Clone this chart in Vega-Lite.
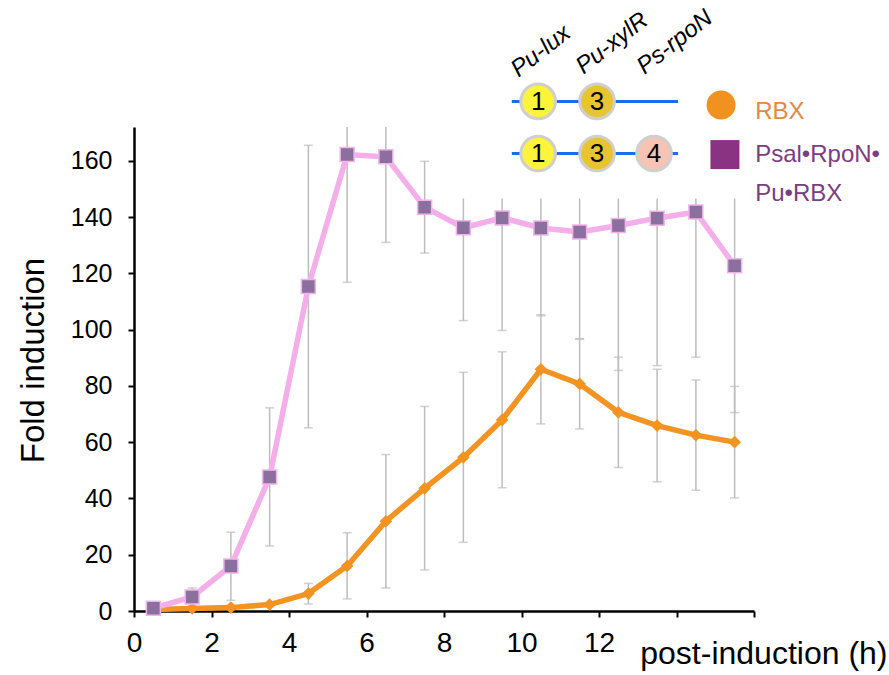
{
  "$schema": "https://vega.github.io/schema/vega-lite/v6.json",
  "width": 620,
  "height": 484,
  "autosize": {"type": "none"},
  "padding": {"left": 134, "top": 127, "right": 135, "bottom": 64},
  "background": "white",
  "config": {
    "view": {"stroke": null},
    "font": "Liberation Sans"
  },
  "datasets": {
    "main": [
      {"t": 0.5, "series": "RBX", "value": 0.5, "lo": 0.3, "hi": 0.7},
      {"t": 1.5, "series": "RBX", "value": 0.9, "lo": 0.5, "hi": 1.3},
      {"t": 2.5, "series": "RBX", "value": 1.2, "lo": 0.6, "hi": 1.8},
      {"t": 3.5, "series": "RBX", "value": 2.3, "lo": 1.5, "hi": 3.1},
      {"t": 4.5, "series": "RBX", "value": 6.2, "lo": 2.5, "hi": 9.8},
      {"t": 5.5, "series": "RBX", "value": 16.0, "lo": 4.3, "hi": 27.8},
      {"t": 6.5, "series": "RBX", "value": 31.9, "lo": 8.2, "hi": 55.6},
      {"t": 7.5, "series": "RBX", "value": 43.6, "lo": 14.6, "hi": 72.7},
      {"t": 8.5, "series": "RBX", "value": 54.6, "lo": 24.4, "hi": 84.8},
      {"t": 9.5, "series": "RBX", "value": 67.9, "lo": 43.8, "hi": 92.1},
      {"t": 10.5, "series": "RBX", "value": 85.9, "lo": 66.5, "hi": 105.3},
      {"t": 11.5, "series": "RBX", "value": 80.7, "lo": 64.7, "hi": 96.7},
      {"t": 12.5, "series": "RBX", "value": 70.6, "lo": 51.0, "hi": 90.2},
      {"t": 13.5, "series": "RBX", "value": 65.9, "lo": 45.9, "hi": 85.9},
      {"t": 14.5, "series": "RBX", "value": 62.5, "lo": 42.9, "hi": 82.1},
      {"t": 15.5, "series": "RBX", "value": 60.0, "lo": 40.2, "hi": 79.8},
      {"t": 0.5, "series": "Psal•RpoN•Pu•RBX", "value": 1.0, "lo": 0.5, "hi": 1.5},
      {"t": 1.5, "series": "Psal•RpoN•Pu•RBX", "value": 5.0, "lo": 1.8, "hi": 8.2},
      {"t": 2.5, "series": "Psal•RpoN•Pu•RBX", "value": 16.0, "lo": 3.8, "hi": 28.0},
      {"t": 3.5, "series": "Psal•RpoN•Pu•RBX", "value": 47.6, "lo": 23.1, "hi": 72.2},
      {"t": 4.5, "series": "Psal•RpoN•Pu•RBX", "value": 115.3, "lo": 65.1, "hi": 165.5},
      {"t": 5.5, "series": "Psal•RpoN•Pu•RBX", "value": 162.2, "lo": 116.8, "hi": 207.6},
      {"t": 6.5, "series": "Psal•RpoN•Pu•RBX", "value": 161.4, "lo": 131.0, "hi": 191.8},
      {"t": 7.5, "series": "Psal•RpoN•Pu•RBX", "value": 143.5, "lo": 127.2, "hi": 159.8},
      {"t": 8.5, "series": "Psal•RpoN•Pu•RBX", "value": 136.2, "lo": 103.2, "hi": 169.2},
      {"t": 9.5, "series": "Psal•RpoN•Pu•RBX", "value": 139.7, "lo": 99.7, "hi": 179.7},
      {"t": 10.5, "series": "Psal•RpoN•Pu•RBX", "value": 136.1, "lo": 104.9, "hi": 167.3},
      {"t": 11.5, "series": "Psal•RpoN•Pu•RBX", "value": 134.7, "lo": 96.7, "hi": 172.7},
      {"t": 12.5, "series": "Psal•RpoN•Pu•RBX", "value": 137.0, "lo": 85.5, "hi": 188.5},
      {"t": 13.5, "series": "Psal•RpoN•Pu•RBX", "value": 139.6, "lo": 87.2, "hi": 192.0},
      {"t": 14.5, "series": "Psal•RpoN•Pu•RBX", "value": 141.8, "lo": 90.2, "hi": 193.4},
      {"t": 15.5, "series": "Psal•RpoN•Pu•RBX", "value": 122.7, "lo": 70.5, "hi": 174.9}
    ],
    "panel": [
      {"x1": 7.9, "x2": 16.3, "y1": 146.6, "y2": 172}
    ],
    "constructLines": [
      {"construct": "RBX", "x1": 9.75, "x2": 14.04, "y": 181.1},
      {"construct": "Psal•RpoN•Pu•RBX", "x1": 9.75, "x2": 14.04, "y": 162.6}
    ],
    "constructNodes": [
      {"construct": "RBX", "node": "1", "x": 10.43, "y": 181.1},
      {"construct": "RBX", "node": "3", "x": 11.95, "y": 181.1},
      {"construct": "Psal•RpoN•Pu•RBX", "node": "1", "x": 10.43, "y": 162.6},
      {"construct": "Psal•RpoN•Pu•RBX", "node": "3", "x": 11.95, "y": 162.6},
      {"construct": "Psal•RpoN•Pu•RBX", "node": "4", "x": 13.42, "y": 162.6}
    ],
    "promoters": [
      {"promoter": "Pu-lux", "x": 10.5, "y": 198.9},
      {"promoter": "Pu-xylR", "x": 12.34, "y": 201.7},
      {"promoter": "Ps-rpoN", "x": 13.96, "y": 202.1}
    ],
    "legend": [
      {"series": "RBX", "label": "RBX", "x": 15.15, "y": 179.8, "tx": 16.03, "ty": 174.7},
      {"series": "Psal•RpoN•Pu•RBX", "label": "Psal•RpoN•\nPu•RBX", "x": 15.25, "y": 162.2, "tx": 16.03, "ty": 159.7}
    ]
  },
  "layer": [
    {
      "data": {"name": "main"},
      "mark": {"type": "rule", "color": "#BDBDBD", "strokeWidth": 1.5, "clip": true},
      "encoding": {
        "x": {"field": "t", "type": "quantitative", "scale": {"domain": [0, 16], "nice": false},
          "axis": {
            "values": [0,1,2,3,4,5,6,7,8,9,10,11,12,13,14,15,16],
            "labelExpr": "datum.value <= 12 && datum.value % 2 == 0 ? datum.label : ''",
            "grid": false, "domainColor": "black", "domainWidth": 2.5,
            "tickColor": "black", "tickWidth": 2, "tickSize": 6,
            "labelFont": "Liberation Sans", "labelFontSize": 28, "labelColor": "black",
            "labelPadding": 12, "labelFlush": false, "labelOverlap": false,
            "title": "post-induction (h)", "titleFont": "Liberation Sans",
            "titleFontSize": 32, "titleFontWeight": "normal", "titleColor": "black",
            "titleAlign": "right", "titleAnchor": null, "titleX": 753, "titleY": 52,
            "titleBaseline": "alphabetic"
          }},
        "y": {"field": "lo", "type": "quantitative", "scale": {"domain": [0, 172], "nice": false},
          "axis": {
            "values": [0,20,40,60,80,100,120,140,160],
            "grid": false, "domainColor": "black", "domainWidth": 2.5,
            "tickColor": "black", "tickWidth": 2, "tickSize": 6,
            "labelFont": "Liberation Sans", "labelFontSize": 25, "labelColor": "black",
            "labelPadding": 16, "labelOverlap": false,
            "title": "Fold induction", "titleFont": "Liberation Sans",
            "titleFontSize": 33, "titleFontWeight": "normal", "titleColor": "black",
            "titleAngle": -90, "titleX": -91, "titleY": 233, "titleAlign": "center",
            "titleBaseline": "alphabetic"
          }},
        "y2": {"field": "hi"}
      }
    },
    {
      "data": {"name": "main"},
      "mark": {"type": "tick", "color": "#BDBDBD", "thickness": 1.5, "size": 9, "orient": "horizontal", "clip": true},
      "encoding": {
        "x": {"field": "t", "type": "quantitative"},
        "y": {"field": "lo", "type": "quantitative"}
      }
    },
    {
      "data": {"name": "main"},
      "mark": {"type": "tick", "color": "#BDBDBD", "thickness": 1.5, "size": 9, "orient": "horizontal", "clip": true},
      "encoding": {
        "x": {"field": "t", "type": "quantitative"},
        "y": {"field": "hi", "type": "quantitative"}
      }
    },
    {
      "data": {"name": "panel"},
      "mark": {"type": "rect", "color": "white", "clip": true},
      "encoding": {
        "x": {"field": "x1", "type": "quantitative"},
        "x2": {"field": "x2"},
        "y": {"field": "y1", "type": "quantitative"},
        "y2": {"field": "y2"}
      }
    },
    {
      "data": {"name": "main"},
      "transform": [{"filter": "datum.series == 'RBX'"}],
      "mark": {"type": "line", "color": "#F39322", "strokeWidth": 5.5},
      "encoding": {
        "x": {"field": "t", "type": "quantitative"},
        "y": {"field": "value", "type": "quantitative"}
      }
    },
    {
      "data": {"name": "main"},
      "transform": [{"filter": "datum.series == 'RBX'"}],
      "mark": {"type": "point", "shape": "diamond", "filled": true, "color": "#F39322", "size": 160, "opacity": 1},
      "encoding": {
        "x": {"field": "t", "type": "quantitative"},
        "y": {"field": "value", "type": "quantitative"}
      }
    },
    {
      "data": {"name": "main"},
      "transform": [{"filter": "datum.series != 'RBX'"}],
      "mark": {"type": "line", "color": "#F4AEEA", "strokeWidth": 5.5},
      "encoding": {
        "x": {"field": "t", "type": "quantitative"},
        "y": {"field": "value", "type": "quantitative"}
      }
    },
    {
      "data": {"name": "main"},
      "transform": [{"filter": "datum.series != 'RBX'"}],
      "mark": {"type": "point", "shape": "square", "filled": true, "fill": "#8A6F9F", "stroke": "#F2B5EA", "strokeWidth": 1.5, "size": 196, "opacity": 1},
      "encoding": {
        "x": {"field": "t", "type": "quantitative"},
        "y": {"field": "value", "type": "quantitative"}
      }
    },
    {
      "data": {"name": "constructLines"},
      "mark": {"type": "rule", "color": "#1C6CF0", "strokeWidth": 3},
      "encoding": {
        "x": {"field": "x1", "type": "quantitative"},
        "x2": {"field": "x2"},
        "y": {"field": "y", "type": "quantitative"}
      }
    },
    {
      "data": {"name": "constructNodes"},
      "mark": {"type": "point", "shape": "circle", "filled": true, "stroke": "#CFCFCF", "strokeWidth": 3, "size": 1200, "opacity": 1},
      "encoding": {
        "x": {"field": "x", "type": "quantitative"},
        "y": {"field": "y", "type": "quantitative"},
        "fill": {"field": "node", "type": "nominal", "scale": {"domain": ["1", "3", "4"], "range": ["#FDF23C", "#E8C52E", "#F7C3B2"]}, "legend": null}
      }
    },
    {
      "data": {"name": "constructNodes"},
      "mark": {"type": "text", "font": "Liberation Sans", "fontSize": 26, "color": "black", "align": "center", "baseline": "middle", "dy": 1},
      "encoding": {
        "x": {"field": "x", "type": "quantitative"},
        "y": {"field": "y", "type": "quantitative"},
        "text": {"field": "node"}
      }
    },
    {
      "data": {"name": "promoters"},
      "mark": {"type": "text", "font": "Liberation Sans", "fontStyle": "italic", "fontSize": 24, "color": "black", "align": "center", "baseline": "middle", "angle": -38},
      "encoding": {
        "x": {"field": "x", "type": "quantitative"},
        "y": {"field": "y", "type": "quantitative"},
        "text": {"field": "promoter"}
      }
    },
    {
      "data": {"name": "legend"},
      "transform": [{"filter": "datum.series == 'RBX'"}],
      "mark": {"type": "point", "shape": "circle", "filled": true, "color": "#F19220", "size": 841, "opacity": 1},
      "encoding": {
        "x": {"field": "x", "type": "quantitative"},
        "y": {"field": "y", "type": "quantitative"}
      }
    },
    {
      "data": {"name": "legend"},
      "transform": [{"filter": "datum.series != 'RBX'"}],
      "mark": {"type": "point", "shape": "square", "filled": true, "color": "#8B3383", "size": 841, "opacity": 1},
      "encoding": {
        "x": {"field": "x", "type": "quantitative"},
        "y": {"field": "y", "type": "quantitative"}
      }
    },
    {
      "data": {"name": "legend"},
      "transform": [{"filter": "datum.series == 'RBX'"}],
      "mark": {"type": "text", "font": "Liberation Sans", "fontSize": 24, "color": "#E8873F", "align": "left", "baseline": "alphabetic"},
      "encoding": {
        "x": {"field": "tx", "type": "quantitative"},
        "y": {"field": "ty", "type": "quantitative"},
        "text": {"field": "label"}
      }
    },
    {
      "data": {"name": "legend"},
      "transform": [{"filter": "datum.series != 'RBX'"}],
      "mark": {"type": "text", "font": "Liberation Sans", "fontSize": 24, "color": "#7B3C83", "align": "left", "baseline": "alphabetic", "lineBreak": "\n", "lineHeight": 39},
      "encoding": {
        "x": {"field": "tx", "type": "quantitative"},
        "y": {"field": "ty", "type": "quantitative"},
        "text": {"field": "label"}
      }
    }
  ]
}
